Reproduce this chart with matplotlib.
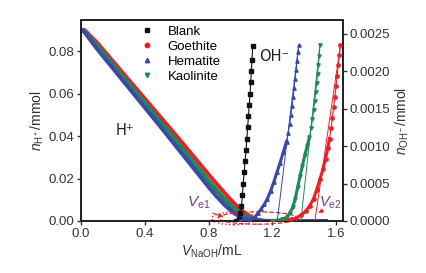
import matplotlib
matplotlib.use("Agg")
import matplotlib.pyplot as plt
from matplotlib.patches import Ellipse

plt.rcParams['font.family'] = ['Liberation Sans', 'DejaVu Sans']
plt.rcParams['mathtext.fontset'] = 'custom'
plt.rcParams['mathtext.rm'] = 'Liberation Sans'
plt.rcParams['mathtext.it'] = 'Liberation Sans:italic'

# series names and colours
names = ["Blank", "Goethite", "Hematite", "Kaolinite"]
colors = ["#111111", "#e8202a", "#3a48a8", "#1d8a55"]
markers = ["s", "o", "^", "v"]

# H+ (left axis)
x_h = [0.0, 0.02, 0.1, 0.2, 0.3, 0.4, 0.5, 0.6, 0.7, 0.8, 0.85, 0.9, 0.95, 1.0, 1.05, 1.1, 1.15, 1.55]
h_blank = [0.090, 0.0895, 0.0825, 0.0735, 0.0645, 0.0555, 0.0465, 0.0372, 0.0280, 0.0188, 0.0145, 0.0103, 0.0065, 0.0035, 0.0015, 0.0004, 0.0, 0.0]
h_goethite = [0.090, 0.090, 0.0840, 0.0752, 0.0664, 0.0576, 0.0488, 0.0400, 0.0310, 0.0220, 0.0176, 0.0133, 0.0092, 0.0055, 0.0026, 0.0008, 0.0001, 0.0]
h_hematite = [0.090, 0.089, 0.0810, 0.0718, 0.0626, 0.0534, 0.0442, 0.0348, 0.0254, 0.0160, 0.0116, 0.0076, 0.0042, 0.0018, 0.0006, 0.0001, 0.0, 0.0]
h_kaolinite = [0.090, 0.0895, 0.0826, 0.0736, 0.0646, 0.0556, 0.0466, 0.0374, 0.0282, 0.0190, 0.0147, 0.0105, 0.0067, 0.0036, 0.0016, 0.0005, 0.0, 0.0]

# OH- (right axis)
x_oh_blank = [0.97, 0.99, 1.0, 1.007, 1.013, 1.018, 1.024, 1.03, 1.036, 1.041, 1.046, 1.051, 1.056, 1.061, 1.065, 1.069, 1.073, 1.078]
oh_blank = [0.0, 0.00003, 0.0001, 0.0002, 0.00035, 0.0005, 0.00065, 0.0008, 0.00095, 0.0011, 0.00125, 0.0014, 0.00155, 0.0017, 0.00185, 0.002, 0.00215, 0.00233]
x_oh_goethite = [1.2, 1.32, 1.35, 1.38, 1.41, 1.435, 1.46, 1.48, 1.5, 1.52, 1.535, 1.55, 1.56, 1.57, 1.578, 1.586, 1.594, 1.601, 1.608, 1.615, 1.622, 1.629]
oh_goethite = [0.0, 0.00002, 0.00004, 0.00008, 0.00013, 0.0002, 0.0003, 0.00042, 0.00056, 0.0007, 0.00083, 0.00098, 0.0011, 0.00124, 0.00138, 0.00152, 0.00166, 0.0018, 0.00194, 0.00208, 0.00222, 0.00235]
x_oh_hematite = [1.0, 1.06, 1.09, 1.11, 1.13, 1.15, 1.17, 1.19, 1.21, 1.23, 1.25, 1.27, 1.29, 1.30, 1.31, 1.318, 1.325, 1.332, 1.338, 1.344, 1.35, 1.356, 1.362, 1.367]
oh_hematite = [0.0, 0.00002, 0.00005, 0.0001, 0.00016, 0.00022, 0.0003, 0.0004, 0.00052, 0.00065, 0.00078, 0.00092, 0.00106, 0.00117, 0.0013, 0.00142, 0.00154, 0.00166, 0.00178, 0.0019, 0.00202, 0.00214, 0.00225, 0.00235]
x_oh_kaolinite = [1.2, 1.26, 1.29, 1.31, 1.33, 1.345, 1.36, 1.375, 1.39, 1.405, 1.42, 1.434, 1.445, 1.453, 1.46, 1.467, 1.473, 1.479, 1.485, 1.49, 1.495, 1.5]
oh_kaolinite = [0.0, 0.00002, 0.00005, 0.0001, 0.00019, 0.0003, 0.00045, 0.0006, 0.00074, 0.00088, 0.001, 0.00112, 0.00124, 0.00136, 0.00148, 0.0016, 0.00172, 0.00184, 0.00196, 0.00208, 0.0022, 0.00235]
# number of leading OH- points where the markers crowd into a thick band
oh_dense = [0, 13, 13, 12]

# tangent lines of the steep OH- part: x at zero and x at the top
tan_x = {"Hematite": [1.232, 1.367], "Kaolinite": [1.38, 1.50], "Goethite": [1.468, 1.629]}
tan_y = [0.0, 0.00235]

h_data = [h_blank, h_goethite, h_hematite, h_kaolinite]
oh_x = [x_oh_blank, x_oh_goethite, x_oh_hematite, x_oh_kaolinite]
oh_data = [oh_blank, oh_goethite, oh_hematite, oh_kaolinite]

fig = plt.figure(figsize=(4.27, 2.73), dpi=100)
ax = fig.add_axes([0.19, 0.1905, 0.613, 0.736])
ax2 = ax.twinx()

# H+ bands (dense markers look like thick lines)
for i in [0, 1, 3, 2]:
    ax.plot(x_h, h_data[i], color=colors[i], lw=2.8, solid_capstyle="butt", zorder=2)

# OH- curves
for i in range(4):
    n = oh_dense[i]
    if n:
        ax2.plot(oh_x[i][:n], oh_data[i][:n], color=colors[i], lw=2.2, zorder=3)
    ax2.plot(oh_x[i], oh_data[i], color=colors[i], lw=0.8, marker=markers[i], ms=2.4, zorder=3)
for i, n in enumerate(names):
    if n in tan_x:
        ax2.plot(tan_x[n], tan_y, color=colors[i], lw=0.7, zorder=3)

# legend handles
for i in range(4):
    ax.plot([], [], ls="none", marker=markers[i], color=colors[i], ms=3.2, label=names[i])
ax.legend(loc="upper left", bbox_to_anchor=(0.19, 1.02), frameon=False, fontsize=9.5,
          handlelength=1.0, handletextpad=1.1, labelspacing=0.22, borderaxespad=0.3)

ax.set_xlim(0, 1.644)
ax.set_ylim(0, 0.0946)
ax2.set_ylim(0, 0.00268)
ax.set_xticks([0, 0.4, 0.8, 1.2, 1.6])
ax.set_xticklabels(["0.0", "0.4", "0.8", "1.2", "1.6"])
ax.set_yticks([0, 0.02, 0.04, 0.06, 0.08])
ax.set_yticklabels(["0.00", "0.02", "0.04", "0.06", "0.08"])
ax2.set_yticks([0, 0.0005, 0.001, 0.0015, 0.002, 0.0025])
ax2.set_yticklabels(["0.0000", "0.0005", "0.0010", "0.0015", "0.0020", "0.0025"])

for a in (ax, ax2):
    a.tick_params(labelsize=9.5, colors="#333333", length=3, width=1.0, pad=2)
    for s in a.spines.values():
        s.set_linewidth(1.3)
        s.set_color("#222222")

ax.set_xlabel(r"$V_{\mathrm{NaOH}}$/mL", fontsize=10, color="#333333", labelpad=2)
ax.set_ylabel(r"$n_{\mathrm{H^+}}$/mmol", fontsize=10, color="#333333", labelpad=2)
ax2.set_ylabel(r"$n_{\mathrm{OH^-}}$/mmol", fontsize=10, color="#333333", labelpad=2)

# annotations
purple = "#7b3a8c"
ax.text(0.276, 0.0428, "H\u207a", fontsize=10.5, color="#222222", ha="center", va="center",
        family=['DejaVu Sans'])
ax.text(1.117, 0.0776, "OH\u207b", fontsize=10.5, color="#222222", ha="left", va="center",
        family=['DejaVu Sans'])
ax.text(0.74, 0.0088, r"$V_{\mathrm{e1}}$", fontsize=11, color=purple, ha="center", va="center")
ax.text(1.562, 0.0088, r"$V_{\mathrm{e2}}$", fontsize=10.5, color=purple, ha="center", va="center")
ax.annotate("", xy=(0.91, 0.0014), xytext=(0.81, 0.0042),
            arrowprops=dict(arrowstyle="-|>", color="#e8202a", lw=0.8, mutation_scale=6))
ax.annotate("", xy=(1.474, 0.0033), xytext=(1.535, 0.0056),
            arrowprops=dict(arrowstyle="-|>", color="#e8202a", lw=0.8, mutation_scale=6))
ax.add_patch(Ellipse((0.96, 0.0012), 0.28, 0.006, fill=False, ec="#e8202a", ls=":", lw=1.0, zorder=4, clip_on=False))
ax.add_patch(Ellipse((1.11, 0.0014), 0.5, 0.0058, fill=False, ec="#e8202a", ls="--", lw=0.9, zorder=4, clip_on=False))

fig.savefig("out.png", dpi=100)
